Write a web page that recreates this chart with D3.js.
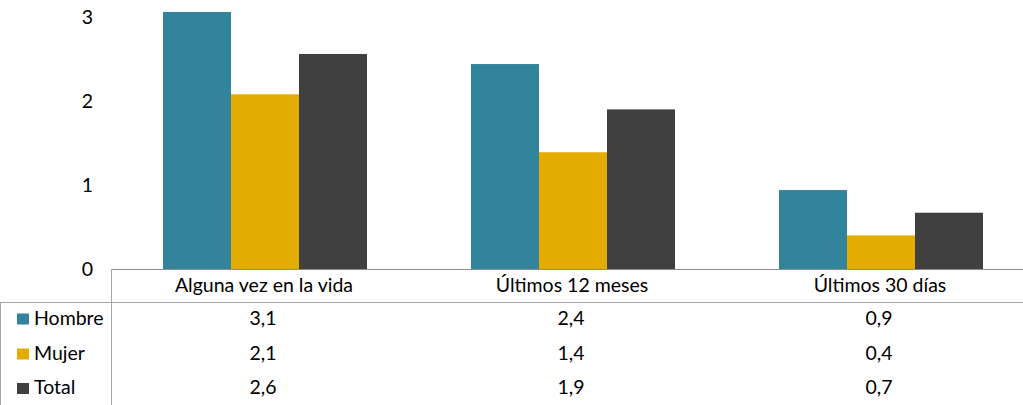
<!DOCTYPE html>
<html><head><meta charset="utf-8">
<script src="https://cdn.jsdelivr.net/npm/d3@7"></script>
<style>body{margin:0;background:#fff}svg{display:block}text{font-family:Lato,"Open Sans",sans-serif;fill:#000}</style>
</head><body><svg id="c" width="1023" height="405"></svg>
<script>
const categories = ["Alguna vez en la vida", "Últimos 12 meses", "Últimos 30 días"];
const seriesNames = ["Hombre", "Mujer", "Total"];
const hombre = [3.06, 2.44, 0.94];
const mujer = [2.08, 1.39, 0.40];
const total = [2.56, 1.90, 0.67];
const yTicks = [0, 1, 2, 3];
const colors = ["#31849B", "#E2AC00", "#404040"];

const seriesValues = [hombre, mujer, total];
const svg = d3.select("#c");
const W = 1023;
const FS = 19.5;
const y = d3.scaleLinear().domain([0, 3]).range([269, 17]);
const x0 = d3.scaleBand().domain(categories).range([111, 1035]).padding(0);
const x1 = d3.scaleBand().domain(seriesNames).range([0, x0.bandwidth()]).paddingInner(0).paddingOuter(0.765);
const fmt = v => d3.format(".1f")(v).replace(".", ",");

// y axis labels
const yAxis = d3.axisLeft(y).tickValues(yTicks).tickSize(0).tickPadding(0).tickFormat(d3.format("d"));
const ya = svg.append("g").attr("transform", "translate(93,0)").call(yAxis);
ya.select(".domain").remove();
ya.selectAll("text").attr("font-family", "Lato, 'Open Sans', sans-serif").attr("font-size", FS).attr("fill", "#000");

// bars
categories.forEach((c, ci) => {
  seriesNames.forEach((s, si) => {
    const v = seriesValues[si][ci];
    svg.append("rect")
      .attr("x", x0(c) + x1(s))
      .attr("y", y(v))
      .attr("width", x1.bandwidth())
      .attr("height", y(0) - y(v))
      .attr("fill", colors[si]);
  });
});

// table lines
const lineC = "#a6a6a6";
svg.append("line").attr("x1", 111).attr("x2", W).attr("y1", y(0) + 0.5).attr("y2", y(0) + 0.5).attr("stroke", "#8c8c8c");
svg.append("line").attr("x1", 0).attr("x2", W).attr("y1", 302.5).attr("y2", 302.5).attr("stroke", lineC);
svg.append("line").attr("x1", 111.5).attr("x2", 111.5).attr("y1", y(0)).attr("y2", 405).attr("stroke", lineC);
svg.append("line").attr("x1", 0.5).attr("x2", 0.5).attr("y1", 302).attr("y2", 405).attr("stroke", lineC);

// category labels
svg.append("g").selectAll("text").data(categories).join("text")
  .attr("x", d => x0(d) + x0.bandwidth() / 2 - 1)
  .attr("y", 292)
  .attr("text-anchor", "middle")
  .attr("font-size", FS)
  .text(d => d);

// rows
const rowY = [324.5, 359.5, 394];
seriesNames.forEach((s, si) => {
  svg.append("rect").attr("x", 17).attr("y", rowY[si] - 11).attr("width", 12).attr("height", 11).attr("fill", colors[si]);
  svg.append("text").attr("x", 34).attr("y", rowY[si]).attr("font-size", FS).text(s);
  categories.forEach((c, ci) => {
    svg.append("text")
      .attr("x", x0(c) + x0.bandwidth() / 2 - 2)
      .attr("y", rowY[si])
      .attr("text-anchor", "middle")
      .attr("font-size", FS)
      .text(fmt(seriesValues[si][ci]));
  });
});
</script></body></html>
